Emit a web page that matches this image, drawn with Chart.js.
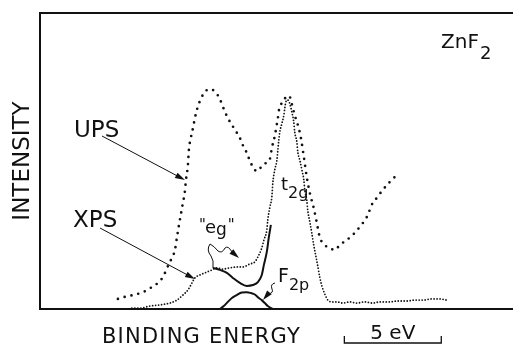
<!DOCTYPE html>
<html>
<head>
<meta charset="utf-8">
<script src="https://cdn.jsdelivr.net/npm/chart.js@4"></script>
<style>
  body { margin: 0; background: #fff; }
  canvas { display: block; }
</style>
</head>
<body>
<canvas id="chart" width="513" height="345"></canvas>
<script>
// energy in eV (relative scale), intensity in arbitrary units
const upsEnergy = [4.02, 4.38, 4.79, 5.31, 5.77, 6.08, 6.34, 6.60, 6.80, 6.96, 7.06, 7.16, 7.27, 7.37, 7.47, 7.53, 7.63, 7.68, 7.78, 7.89, 7.99, 8.09, 8.25, 8.40, 8.61, 8.76, 8.92, 9.07, 9.23, 9.38, 9.54, 9.69, 9.90, 10.10, 10.31, 10.46, 10.62, 10.77, 10.93, 11.08, 11.24, 11.44, 11.65, 11.86, 11.96, 12.11, 12.27, 12.37, 12.53, 12.73, 12.89, 12.99, 13.14, 13.30, 13.45, 13.61, 13.76, 13.92, 14.12, 14.28, 14.43, 14.69, 14.95, 15.21, 15.46, 15.82, 16.13, 16.49, 16.86, 17.16, 17.37, 17.68, 18.04, 18.30];
const upsIntensity = [3.4, 4.1, 4.7, 5.7, 7.4, 8.8, 10.8, 14.5, 17.2, 19.9, 24.0, 28.0, 32.1, 35.8, 39.5, 43.6, 48.6, 53.7, 57.8, 61.1, 64.5, 67.2, 70.3, 72.3, 74.0, 74.3, 74.0, 73.0, 71.6, 69.3, 66.6, 64.5, 62.2, 60.1, 57.8, 55.4, 53.4, 51.0, 48.6, 47.0, 46.6, 48.3, 49.3, 50.7, 54.4, 58.4, 64.5, 68.6, 69.6, 72.0, 71.6, 69.3, 65.5, 62.2, 58.1, 51.4, 44.6, 39.2, 34.1, 29.1, 24.3, 21.6, 20.6, 19.9, 21.6, 23.3, 25.0, 27.7, 31.1, 35.8, 37.5, 40.2, 42.9, 44.6];

const xpsEnergy = [4.74, 5.15, 5.67, 6.19, 6.70, 7.06, 7.37, 7.63, 7.84, 7.99, 8.25, 8.61, 8.87, 9.12, 9.43, 9.79, 10.15, 10.46, 10.82, 11.08, 11.24, 11.44, 11.55, 11.70, 11.75, 11.86, 11.96, 12.01, 12.11, 12.22, 12.27, 12.32, 12.37, 12.47, 12.58, 12.63, 12.68, 12.78, 12.89, 12.99, 13.09, 13.14, 13.25, 13.30, 13.40, 13.51, 13.61, 13.66, 13.76, 13.81, 13.92, 14.02, 14.12, 14.23, 14.33, 14.43, 14.54, 14.69, 14.85, 15.10, 15.31, 15.62, 15.98, 16.34, 16.75, 17.16, 17.53, 18.04, 18.45, 18.92, 19.33, 19.74, 20.21, 20.62, 20.98];
const xpsIntensity = [0.3, 0.3, 1.0, 1.4, 2.0, 3.0, 4.7, 6.4, 8.8, 10.5, 11.5, 12.5, 13.2, 13.9, 13.5, 13.9, 14.2, 14.2, 15.2, 15.9, 17.6, 20.6, 23.3, 26.7, 30.1, 34.5, 37.8, 42.6, 47.0, 50.3, 53.7, 57.1, 59.8, 62.5, 65.5, 67.9, 69.9, 70.6, 69.3, 66.6, 63.2, 59.8, 56.4, 53.0, 50.3, 47.0, 43.6, 40.2, 36.8, 33.4, 29.4, 25.7, 21.6, 17.9, 14.5, 10.8, 7.8, 5.1, 3.0, 2.4, 2.4, 2.0, 2.4, 2.0, 2.4, 2.0, 2.4, 2.4, 2.7, 2.7, 3.0, 3.0, 3.4, 3.4, 3.0];

// "eg" part left after removing t2g (solid line)
const egEnergy = [8.92, 9.28, 9.64, 9.95, 10.31, 10.67, 10.98, 11.24, 11.44, 11.55, 11.70, 11.80, 11.91];
const egIntensity = [13.9, 13.2, 12.2, 10.5, 8.8, 7.8, 8.1, 9.1, 11.5, 14.9, 19.3, 24.0, 28.4];

// F 2p contribution
const f2pEnergy = [9.28, 9.48, 9.69, 9.90, 10.15, 10.41, 10.67, 10.88, 11.08, 11.29, 11.44, 11.60, 11.75, 12.01];
const f2pIntensity = [0, 1.0, 2.4, 3.7, 4.7, 5.6, 5.7, 5.4, 4.9, 3.7, 3.0, 2.0, 1.0, 0];

const energyMax = 24.4;
const scaleBarStart = 15.7; // eV
const scaleBarWidth = 5;    // eV

const toPoints = (xs, ys) => xs.map((x, i) => ({ x: x, y: ys[i] }));

const ink = '#111';
const font = '"DejaVu Sans", sans-serif';

function arrow(ctx, x1, y1, x2, y2) {
    const a = Math.atan2(y2 - y1, x2 - x1);
    ctx.beginPath();
    ctx.moveTo(x1, y1);
    ctx.lineTo(x2 - 6 * Math.cos(a), y2 - 6 * Math.sin(a));
    ctx.stroke();
    ctx.beginPath();
    ctx.moveTo(x2, y2);
    ctx.lineTo(x2 - 10 * Math.cos(a) + 3 * Math.sin(a), y2 - 10 * Math.sin(a) - 3 * Math.cos(a));
    ctx.lineTo(x2 - 10 * Math.cos(a) - 3 * Math.sin(a), y2 - 10 * Math.sin(a) + 3 * Math.cos(a));
    ctx.closePath();
    ctx.fill();
}

// draws text, returns the x where it ends
function text(ctx, str, x, y, size, spacing) {
    ctx.font = size + 'px ' + font;
    ctx.letterSpacing = (spacing || 0) + 'px';
    ctx.fillText(str, x, y);
    const w = ctx.measureText(str).width;
    ctx.letterSpacing = '0px';
    return x + w;
}

// frame, labels, arrows and scale bar
const decor = {
    id: 'decor',
    afterDraw(chart) {
        const ctx = chart.ctx;
        const area = chart.chartArea;
        const xs = chart.scales.x;
        ctx.save();
        ctx.strokeStyle = ink;
        ctx.fillStyle = ink;
        ctx.textBaseline = 'alphabetic';

        // frame
        ctx.lineWidth = 2;
        ctx.beginPath();
        ctx.moveTo(chart.width, area.top);
        ctx.lineTo(area.left, area.top);
        ctx.lineTo(area.left, area.bottom);
        ctx.lineTo(chart.width, area.bottom);
        ctx.stroke();

        // axis titles
        ctx.save();
        ctx.translate(29, (area.top + area.bottom) / 2);
        ctx.rotate(-Math.PI / 2);
        ctx.textAlign = 'center';
        text(ctx, 'INTENSITY', 0, 0, 23);
        ctx.restore();
        text(ctx, 'BINDING ENERGY', 102, 343, 21, 1.2);

        // 5 eV scale bar
        const b0 = xs.getPixelForValue(scaleBarStart);
        const b1 = xs.getPixelForValue(scaleBarStart + scaleBarWidth);
        ctx.lineWidth = 1.3;
        ctx.beginPath();
        ctx.moveTo(b0, 336);
        ctx.lineTo(b0, 343);
        ctx.lineTo(b1, 343);
        ctx.lineTo(b1, 336);
        ctx.stroke();
        ctx.textAlign = 'center';
        text(ctx, '5 eV', (b0 + b1) / 2, 339, 20);
        ctx.textAlign = 'left';

        // compound
        let e = text(ctx, 'ZnF', 441, 48, 20);
        text(ctx, '2', e + 1, 59, 18);

        // curve labels
        text(ctx, 'UPS', 74, 137, 23);
        text(ctx, 'XPS', 73, 227, 23);
        ctx.lineWidth = 1;
        arrow(ctx, 102, 136, 185, 180);
        arrow(ctx, 100, 228, 195, 279);

        text(ctx, '"', 199, 230, 15);
        e = text(ctx, 'e', 205, 233, 18);
        e = text(ctx, 'g', e, 235, 17);
        text(ctx, '"', e + 1, 230, 15);
        e = text(ctx, 't', 281, 190, 18);
        text(ctx, '2g', e, 198, 16);
        e = text(ctx, 'F', 278, 282, 19);
        text(ctx, '2p', e, 290, 16);

        // wavy leaders
        ctx.lineWidth = 1;
        ctx.beginPath();
        ctx.moveTo(213, 268);
        ctx.quadraticCurveTo(214, 260, 211, 256);
        ctx.quadraticCurveTo(206, 250, 210, 244);
        ctx.quadraticCurveTo(214, 246, 218, 251);
        ctx.quadraticCurveTo(222, 254, 225, 248);
        ctx.quadraticCurveTo(228, 245, 232, 252);
        ctx.stroke();
        arrow(ctx, 232, 252, 239, 258);

        ctx.beginPath();
        ctx.moveTo(275, 283);
        ctx.quadraticCurveTo(270, 284, 272, 289);
        ctx.quadraticCurveTo(274, 293, 268, 294);
        ctx.stroke();
        arrow(ctx, 268, 294, 263, 300);

        ctx.restore();
    }
};

new Chart(document.getElementById('chart'), {
    type: 'line',
    data: {
        datasets: [
            {
                label: 'UPS',
                data: toPoints(upsEnergy, upsIntensity),
                borderColor: ink,
                borderWidth: 2.7,
                borderDash: [0, 7],
                borderCapStyle: 'round',
                pointRadius: 0,
                cubicInterpolationMode: 'monotone'
            },
            {
                label: 'XPS',
                data: toPoints(xpsEnergy, xpsIntensity),
                borderColor: ink,
                borderWidth: 1.8,
                borderDash: [0, 3],
                borderCapStyle: 'round',
                pointRadius: 0,
                cubicInterpolationMode: 'monotone'
            },
            {
                label: 'eg',
                data: toPoints(egEnergy, egIntensity),
                borderColor: ink,
                borderWidth: 2,
                pointRadius: 0,
                cubicInterpolationMode: 'monotone'
            },
            {
                label: 'F2p',
                data: toPoints(f2pEnergy, f2pIntensity),
                borderColor: ink,
                borderWidth: 2,
                pointRadius: 0,
                cubicInterpolationMode: 'monotone'
            }
        ]
    },
    options: {
        responsive: false,
        animation: false,
        layout: { padding: { left: 40, top: 13, right: 0, bottom: 36 } },
        scales: {
            x: { type: 'linear', min: 0, max: energyMax, display: false },
            y: { min: 0, max: 100, display: false }
        },
        plugins: {
            legend: { display: false },
            tooltip: { enabled: false }
        }
    },
    plugins: [decor]
});
</script>
</body>
</html>
